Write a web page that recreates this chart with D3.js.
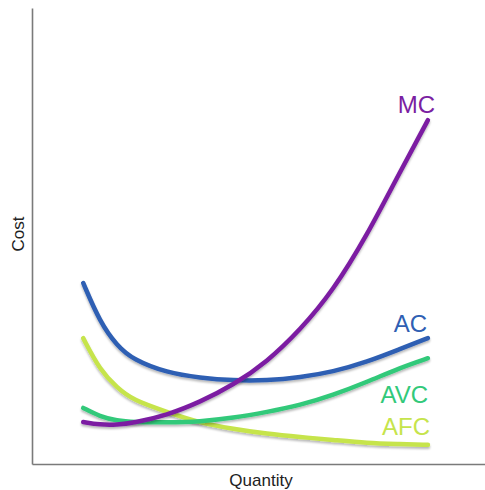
<!DOCTYPE html>
<html>
<head>
<meta charset="utf-8">
<script src="https://cdn.jsdelivr.net/npm/d3@7"></script>
<style>
  html, body { margin: 0; padding: 0; background: #fff; }
  svg { display: block; font-family: "Liberation Sans", Arial, Helvetica, sans-serif; }
</style>
</head>
<body>
<svg id="chart" width="485" height="490"></svg>
<script>
// Quantity sample points (data units)
const quantity = [11.3, 15.0, 18.8, 22.3, 29.8, 37.1, 44.4, 51.9, 59.2, 66.4, 74.0, 81.2, 87.4];
// Cost curves
const mc  = [9.2, 8.6, 8.6, 9.0, 10.7, 13.6, 17.3, 22.4, 29.4, 37.9, 50.2, 64.0, 75.4];
const ac  = [39.7, 31.1, 25.9, 22.9, 20.0, 18.9, 18.3, 18.3, 19.0, 20.2, 22.4, 25.2, 27.6];
const avc = [12.3, 10.4, 9.5, 9.2, 9.1, 9.3, 10.1, 11.4, 12.9, 15.1, 18.0, 21.1, 23.2];
const afc = [27.6, 20.6, 16.7, 14.0, 11.4, 9.0, 7.7, 6.6, 5.9, 5.3, 4.6, 4.4, 4.2];
const seriesNames = ["AFC", "AVC", "AC", "MC"];
const seriesColors = ["#c6e44c", "#32c97a", "#2f5fb3", "#7b1fa2"];
const xTitle = "Quantity";
const yTitle = "Cost";

const seriesValues = { AFC: afc, AVC: avc, AC: ac, MC: mc };

const svg = d3.select("#chart");
const x = d3.scaleLinear().domain([0, 100]).range([32, 485]);
const y = d3.scaleLinear().domain([0, 100]).range([464, 8]);

// drop shadow
const defs = svg.append("defs");
const f = defs.append("filter").attr("id", "shadow")
  .attr("x", "-10%").attr("y", "-10%").attr("width", "120%").attr("height", "130%");
f.append("feDropShadow").attr("dx", 0).attr("dy", 2).attr("stdDeviation", 1.2)
  .attr("flood-color", "#000").attr("flood-opacity", 0.28);

// axes (no ticks)
svg.append("g").attr("transform", `translate(0,${y(0)})`)
  .call(d3.axisBottom(x).tickValues([]).tickSizeOuter(0))
  .call(g => g.select(".domain").attr("stroke", "#7a7a7a").attr("stroke-width", 1.6));
svg.append("g").attr("transform", `translate(${x(0)},0)`)
  .call(d3.axisLeft(y).tickValues([]).tickSizeOuter(0))
  .call(g => g.select(".domain").attr("stroke", "#7a7a7a").attr("stroke-width", 1.6));

// axis titles
svg.append("text").attr("x", 261).attr("y", 486).attr("text-anchor", "middle")
  .attr("font-size", 17).attr("fill", "#222").text(xTitle);
svg.append("text").attr("transform", "translate(24,234) rotate(-90)")
  .attr("text-anchor", "middle").attr("font-size", 17).attr("fill", "#222").text(yTitle);

const line = d3.line()
  .x((d, i) => x(quantity[i]))
  .y(d => y(d))
  .curve(d3.curveBasis);

seriesNames.forEach((name, k) => {
  svg.append("path")
    .attr("d", line(seriesValues[name]))
    .attr("fill", "none")
    .attr("stroke", seriesColors[k])
    .attr("stroke-width", 4.5)
    .attr("stroke-linecap", "round")
    .attr("filter", "url(#shadow)");
});

// curve labels (end-anchored near right end)
const labelPos = { MC: [435, 113], AC: [427, 332], AVC: [428, 403], AFC: [430, 435] };
seriesNames.forEach((name, k) => {
  svg.append("text")
    .attr("x", labelPos[name][0]).attr("y", labelPos[name][1])
    .attr("text-anchor", "end").attr("font-size", 24)
    .attr("fill", seriesColors[k]).text(name);
});
</script>
</body>
</html>
